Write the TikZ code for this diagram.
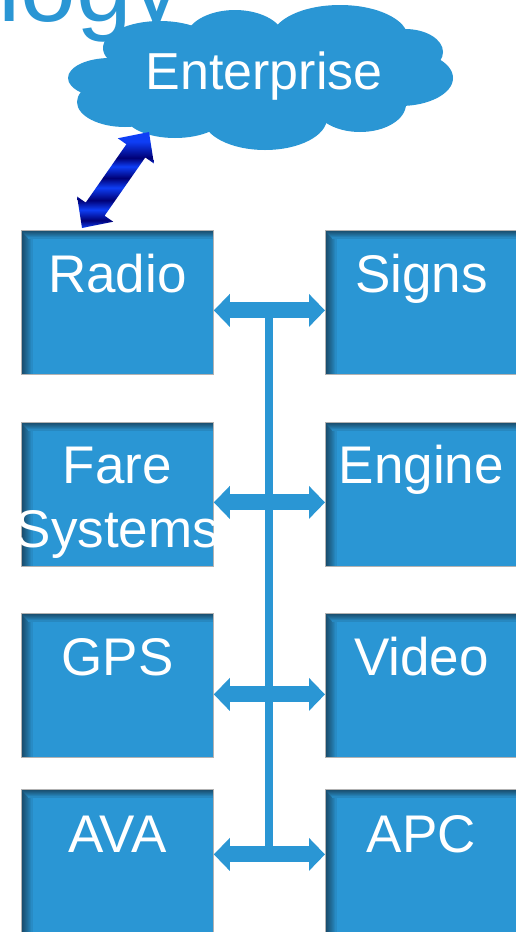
\documentclass[tikz,border=0pt]{standalone}
\usepackage{fontspec}
\setmainfont{Liberation Sans}
\usetikzlibrary{arrows.meta,calc}
\definecolor{boxblue}{RGB}{42,150,212}
\definecolor{boxdark}{RGB}{24,72,102}
\definecolor{arrbright}{RGB}{14,62,245}
\definecolor{arrdark}{RGB}{0,0,118}
\pgfdeclareverticalshading{arrowshade}{100bp}{color(0bp)=(arrbright); color(25bp)=(arrbright); color(29bp)=(arrdark); color(34.5bp)=(arrbright); color(39.5bp)=(arrdark); color(46bp)=(arrbright); color(51bp)=(arrdark); color(57bp)=(arrbright); color(61.5bp)=(arrdark); color(70bp)=(arrbright); color(100bp)=(arrbright)}
\tikzset{
  sysbox/.style={rectangle, fill=boxblue, draw=gray!60, line width=0.8pt,
    minimum width=192pt, minimum height=144pt, anchor=north west, inner sep=0pt,
    path picture={
      \foreach \i in {0,...,10} {
        \pgfmathtruncatemacro\pct{100*(1-\i/11)^0.8}
        \fill[boxdark!\pct!boxblue] ([xshift={\i*1pt}]path picture bounding box.north west)
          rectangle ([xshift={(\i+1.1)*1pt}]path picture bounding box.south west);
      }
      \foreach \i in {0,...,7} {
        \pgfmathtruncatemacro\pct{100*(1-\i/8)^0.8}
        \fill[boxdark!\pct!boxblue] ([xshift={\i*1pt},yshift={-\i*1pt}]path picture bounding box.north west)
          rectangle ([yshift={-(\i+1.1)*1pt}]path picture bounding box.north east);
      }
    }},
  boxtext/.style={text=white, inner sep=0pt, align=center, anchor=base,
    font=\fontsize{53}{64}\selectfont, label distance=-62pt},
  busarrow/.style={draw=boxblue, line width=16pt,
    {Triangle[width=32pt,length=16pt]}-{Triangle[width=32pt,length=16pt]}},
  busline/.style={draw=boxblue, line width=8pt},
  cloudtext/.style={text=white, inner sep=0pt, anchor=base,
    font=\fontsize{52}{60}\selectfont},
  titletext/.style={anchor=base west, inner sep=0pt, text=boxblue,
    font=\fontsize{100}{120}\selectfont}
}
\begin{document}
\begin{tikzpicture}[x=1pt, y=-1pt]
\useasboundingbox (0,0) rectangle (516,932);
\clip (0,0) rectangle (516,932);
\node[titletext] (title) at (-2,21) {logy};

% cloud
\fill[boxblue]
  (110,78) ellipse [x radius=42, y radius=20]
  (125,102) ellipse [x radius=48, y radius=25]
  (160,48) ellipse [x radius=57, y radius=27]
  (235,40) ellipse [x radius=50, y radius=30]
  (340,38) ellipse [x radius=68, y radius=33]
  (405,52) ellipse [x radius=38, y radius=23]
  (400,78) ellipse [x radius=53, y radius=28]
  (360,104) ellipse [x radius=46, y radius=28]
  (265,118) ellipse [x radius=62, y radius=32]
  (175,115) ellipse [x radius=50, y radius=23]
  (262,78) ellipse [x radius=150, y radius=50];
\node[cloudtext] (cloud) at (264,89) {Enterprise};

\node[sysbox, label={[boxtext]90:Radio}] (radio) at (21,230) {};
\node[sysbox, label={[boxtext]90:Signs}] (signs) at (325,230) {};
\node[sysbox, label={[boxtext, label distance=-125pt]90:{Fare\\Systems}}] (fare) at (21,422) {};
\node[sysbox, label={[boxtext, label distance=-61pt]90:Engine}] (engine) at (325,422) {};
\node[sysbox, label={[boxtext]90:GPS}] (gps) at (21,613) {};
\node[sysbox, label={[boxtext]90:Video}] (video) at (325,613) {};
\node[sysbox, label={[boxtext, label distance=-63pt]90:AVA}] (ava) at (21,789) {};
\node[sysbox, label={[boxtext, label distance=-63pt]90:APC}] (apc) at (325,789) {};

% bus
\draw[busline] ([yshift=-8pt]$(radio.east)!.5!(signs.west)$) -- ([yshift=7pt]$(ava.east)!.5!(apc.west)$);
\draw[busarrow] ([yshift=-8pt]radio.east) -- ([yshift=-8pt]signs.west);
\draw[busarrow] ([yshift=-8pt]fare.east) -- ([yshift=-8pt]engine.west);
\draw[busarrow] ([yshift=-9pt]gps.east) -- ([yshift=-9pt]video.west);
\draw[busarrow] ([yshift=7pt]ava.east) -- ([yshift=7pt]apc.west);

% enterprise link
\coordinate (rtip) at ([xshift=61pt,yshift=2pt]radio.north west);
\coordinate (etip) at ([xshift=-115pt,yshift=-43pt]cloud.base);
\coordinate (a1) at ($(rtip)!23pt!(etip)$);
\coordinate (b1) at ($(etip)!23pt!(rtip)$);
\path[shading=arrowshade]
  (rtip) -- ($(a1)!22pt!90:(etip)$) -- ($(a1)!11.5pt!90:(etip)$)
  -- ($(b1)!11.5pt!-90:(rtip)$) -- ($(b1)!22pt!-90:(rtip)$) -- (etip)
  -- ($(b1)!22pt!90:(rtip)$) -- ($(b1)!11.5pt!90:(rtip)$)
  -- ($(a1)!11.5pt!-90:(etip)$) -- ($(a1)!22pt!-90:(etip)$) -- cycle;
\end{tikzpicture}
\end{document}
